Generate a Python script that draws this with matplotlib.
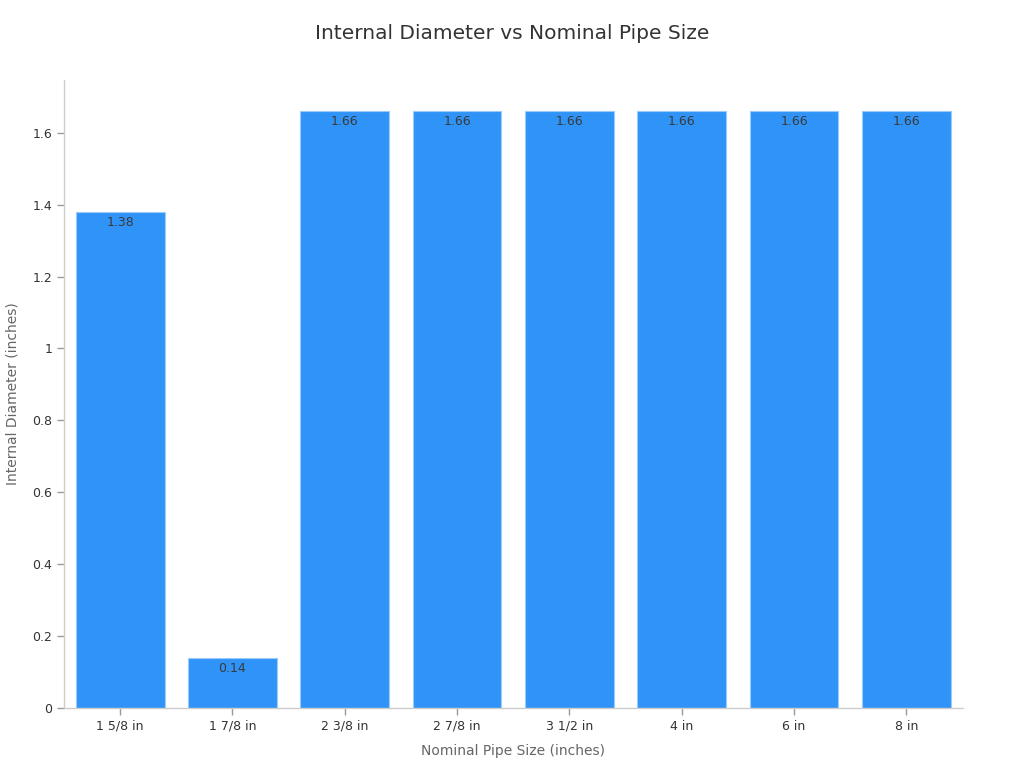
import matplotlib
matplotlib.use("Agg")
import matplotlib.pyplot as plt

categories = ["1 5/8 in", "1 7/8 in", "2 3/8 in", "2 7/8 in", "3 1/2 in", "4 in", "6 in", "8 in"]
values = [1.38, 0.14, 1.66, 1.66, 1.66, 1.66, 1.66, 1.66]
yticks = [0, 0.2, 0.4, 0.6, 0.8, 1.0, 1.2, 1.4, 1.6]
ytick_labels = ["0", "0.2", "0.4", "0.6", "0.8", "1", "1.2", "1.4", "1.6"]

plt.rcParams['font.family'] = ['DejaVu Sans']
fig = plt.figure(figsize=(10.24, 7.68), dpi=100)
ax = fig.add_axes([0.0625, 0.078, 0.8775, 0.818])

x = list(range(len(categories)))
bars = ax.bar(x, values, width=0.79, color="#2F93F8", edgecolor="#9CCBF9", linewidth=0.8)
for xi, v in zip(x, values):
    ax.text(xi, v - 0.012, f"{v:.2f}", ha="center", va="top", fontsize=9, color="#3a3a3a")

ax.set_xlim(-0.5, len(categories) - 0.5)
ax.set_ylim(0, 1.747)
ax.set_xticks(x)
ax.set_xticklabels(categories, fontsize=9, color="#333333")
ax.set_yticks(yticks)
ax.set_yticklabels(ytick_labels, fontsize=9, color="#333333")
ax.tick_params(axis="both", length=5, color="#999999", width=1)
for s in ["top", "right"]:
    ax.spines[s].set_visible(False)
for s in ["left", "bottom"]:
    ax.spines[s].set_color("#cccccc")
    ax.spines[s].set_linewidth(1)

ax.set_xlabel("Nominal Pipe Size (inches)", fontsize=10, color="#666666", labelpad=8)
ax.set_ylabel("Internal Diameter (inches)", fontsize=10, color="#666666", labelpad=9)
fig.text(0.5, 0.957, "Internal Diameter vs Nominal Pipe Size", ha="center", va="center", fontsize=14.5, color="#333333")

fig.savefig("out.png", dpi=100)
